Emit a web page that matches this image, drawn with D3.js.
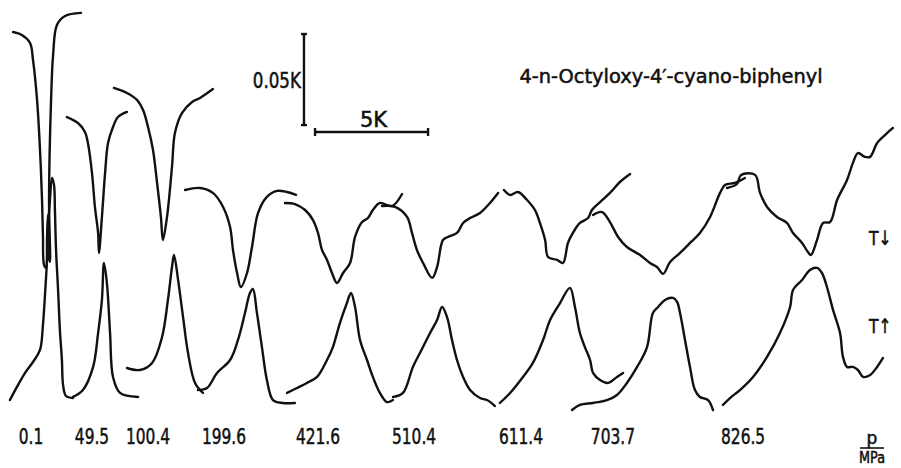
<!DOCTYPE html>
<html>
<head>
<meta charset="utf-8">
<script src="https://cdn.jsdelivr.net/npm/d3@7"></script>
<style>
  body { margin: 0; background: #fff; }
  svg text { font-family: "DejaVu Sans", sans-serif; fill: #111; stroke: #111; stroke-width: 0.55px; }
</style>
</head>
<body>
<div id="chart"></div>
<script>
// temperature offset in K, signal in mK
const pressures = ["0.1", "49.5", "100.4", "199.6", "421.6", "510.4", "611.4", "703.7", "826.5"];
const labelT = [1.37, 4.07, 6.55, 9.91, 14.07, 18.32, 23.05, 27.12, 32.88];

// cooling runs (upper row, T decreasing)
const cool01 = [[0.58,232.4],[0.97,230.8],[1.33,226.4],[1.46,217.1],[1.64,195.1],[1.77,167.6],[1.86,140.1],[1.90,120.9],[1.95,104.4],[2.04,102.8],[2.08,118.1],[2.12,131.9],[2.17,108.3],[2.21,106.1],[2.17,140.1],[2.26,195.1],[2.35,219.8],[2.52,236.3],[2.88,241.2],[3.58,242.9]];
const cool495 = [[2.96,185.7],[3.45,182.4],[3.76,177.5],[3.89,171.4],[4.07,155.0],[4.20,136.3],[4.34,122.0],[4.38,111.0],[4.51,130.8],[4.65,155.0],[4.78,171.4],[5.00,180.2],[5.22,185.7],[5.62,188.5]];
const cool1004 = [[5.04,201.7],[5.62,198.9],[6.06,195.1],[6.33,189.6],[6.55,180.2],[6.77,167.6],[6.95,149.5],[7.12,130.8],[7.21,118.1],[7.39,130.8],[7.61,158.3],[7.74,176.9],[8.05,187.9],[8.50,194.0],[8.85,196.2],[9.42,201.1]];
const cool1996 = [[8.19,145.6],[8.85,146.7],[9.42,144.0],[9.87,136.3],[10.18,125.3],[10.31,112.6],[10.49,100.0],[10.66,92.3],[10.93,100.0],[11.15,114.3],[11.42,133.0],[11.81,141.8],[12.26,145.1],[12.70,144.5],[13.10,142.9]];
const cool4216 = [[12.61,138.5],[13.05,137.9],[13.50,134.6],[13.85,129.1],[14.07,122.0],[14.25,112.6],[14.47,107.2],[14.69,100.0],[14.91,94.5],[15.18,100.0],[15.49,105.5],[15.71,119.8],[16.02,128.0],[16.28,130.2],[16.50,134.6],[16.81,138.5],[17.35,136.8],[17.79,143.4]];
const cool5104 = [[16.90,136.8],[17.48,136.3],[18.01,130.8],[18.23,122.0],[18.45,112.6],[18.72,105.5],[19.12,97.3],[19.34,103.3],[19.60,118.1],[19.82,119.8],[20.22,122.0],[20.49,127.5],[20.80,130.2],[21.24,133.0],[21.68,138.5],[22.04,144.0]];
const cool6114 = [[22.30,145.6],[22.57,142.9],[22.92,144.5],[23.32,140.1],[23.67,134.6],[23.89,127.5],[24.12,118.1],[24.25,108.8],[24.65,107.2],[24.91,105.5],[25.13,116.5],[25.35,122.0],[25.66,127.5],[26.02,130.2],[26.19,134.6],[26.55,139.0],[26.99,144.0],[27.43,150.0],[27.88,154.4]];
const cool7037 = [[26.24,131.9],[26.64,133.5],[26.99,128.0],[27.35,119.8],[27.74,114.3],[28.32,109.9],[28.76,105.5],[29.07,103.3],[29.34,99.5],[29.65,106.1],[30.09,111.0],[30.53,116.5],[30.97,122.0],[31.42,130.8],[31.86,144.0],[32.08,148.4],[32.52,149.5],[32.96,152.2]];
const cool8265 = [[32.17,146.7],[32.61,148.9],[32.79,153.9],[33.41,153.9],[33.63,144.0],[33.94,136.3],[34.38,130.8],[34.82,127.5],[35.09,122.0],[35.49,116.5],[35.75,111.5],[35.88,109.9],[36.15,118.1],[36.42,127.5],[36.73,128.0],[37.04,140.1],[37.48,151.1],[37.74,160.5],[37.96,165.9],[38.27,163.8],[38.50,163.8],[38.81,171.4],[39.16,175.8],[39.51,179.7]];

// heating runs (lower row, T increasing)
const heat01 = [[0.44,30.2],[0.75,37.4],[1.11,45.1],[1.46,51.1],[1.77,57.7],[1.90,71.4],[1.99,87.9],[2.08,107.2],[2.12,123.6],[2.21,140.1],[2.30,152.2],[2.39,148.4],[2.43,134.6],[2.48,112.6],[2.57,90.7],[2.65,68.7],[2.74,52.2],[2.79,38.5],[2.92,32.4],[3.23,31.3]];
const heat495 = [[3.23,31.9],[3.67,35.7],[4.12,48.4],[4.34,67.0],[4.51,85.2],[4.60,105.5],[4.73,94.5],[4.87,67.0],[5.00,42.9],[5.31,34.1],[6.11,31.9]];
const heat1004 = [[5.62,47.8],[6.19,46.7],[6.73,50.6],[7.17,64.8],[7.43,85.2],[7.61,103.3],[7.70,109.9],[7.88,96.2],[8.10,75.8],[8.32,56.0],[8.63,39.6],[8.98,34.1]];
const heat1996 = [[8.76,35.7],[9.16,36.8],[9.60,45.1],[10.18,52.2],[10.53,63.2],[10.84,78.0],[11.06,89.0],[11.19,91.2],[11.37,78.0],[11.59,59.3],[11.81,41.2],[12.08,30.2],[12.52,28.6],[13.05,28.6]];
const heat4216 = [[12.70,34.1],[13.14,36.8],[13.58,39.6],[14.03,42.9],[14.47,52.2],[14.73,59.3],[15.04,72.5],[15.35,83.5],[15.53,89.0],[15.71,81.3],[15.93,63.2],[16.24,52.2],[16.50,42.9],[16.81,34.1],[17.12,29.1],[17.39,30.2]];
const heat5104 = [[17.39,31.9],[17.83,34.1],[18.27,48.4],[18.58,56.0],[19.03,67.0],[19.34,74.2],[19.56,81.3],[19.78,75.8],[20.00,63.2],[20.22,52.2],[20.49,42.9],[20.80,35.7],[21.24,31.3],[21.55,30.2],[21.90,26.9]];
const heat6114 = [[22.12,28.6],[22.57,34.1],[23.14,42.9],[23.58,50.6],[24.03,63.2],[24.34,74.2],[24.78,83.5],[25.22,91.8],[25.44,81.3],[25.66,67.0],[25.88,59.3],[26.11,52.2],[26.24,45.1],[26.55,41.2],[26.90,39.6],[27.30,42.9],[27.57,45.1]];
const heat7037 = [[25.31,24.7],[25.66,27.5],[26.24,28.6],[26.86,30.2],[27.30,33.0],[27.74,39.6],[28.19,48.4],[28.63,59.3],[28.89,78.0],[29.12,81.3],[29.42,85.2],[29.78,86.3],[29.96,84.1],[30.09,78.0],[30.31,63.2],[30.53,48.4],[30.75,35.7],[30.97,31.9],[31.33,30.2],[31.55,24.7]];
const heat8265 = [[31.99,27.5],[32.30,31.3],[32.74,35.7],[33.32,42.9],[33.94,53.9],[34.51,67.0],[34.96,81.3],[35.09,90.7],[35.49,96.2],[35.84,101.7],[36.15,102.8],[36.37,100.0],[36.59,92.3],[36.86,79.7],[37.17,67.0],[37.30,53.9],[37.48,48.4],[37.74,48.4],[37.96,46.7],[38.19,42.9],[38.50,44.0],[38.81,48.4],[39.07,53.3]];

const coolRuns = [cool01, cool495, cool1004, cool1996, cool4216, cool5104, cool6114, cool7037, cool8265];
const heatRuns = [heat01, heat495, heat1004, heat1996, heat4216, heat5104, heat6114, heat7037, heat8265];

// scale bars: 0.05 K = 50 mK vertical, 5 K horizontal
const barV = { t: 13.45, from: 181.3, to: 231.3 };
const barH = { from: 13.94, to: 18.94, s: 177.5 };

const width = 901, height = 468;

const svg = d3.select("#chart")
  .append("svg")
  .attr("width", width)
  .attr("height", height);

svg.append("rect").attr("width", width).attr("height", height).attr("fill", "#fff");

const x = d3.scaleLinear().domain([0, 40]).range([0, 904]);
const y = d3.scaleLinear().domain([0, 250]).range([455, 0]);

const line = d3.line()
  .x(d => x(d[0]))
  .y(d => y(d[1]))
  .curve(d3.curveCatmullRom.alpha(0.5));

// squeeze/stretch text to mimic the narrow lettering of the original
function fit(sel, k) {
  sel.each(function () {
    const w = this.getComputedTextLength();
    d3.select(this).attr("textLength", w * k).attr("lengthAdjust", "spacingAndGlyphs");
  });
}

const curves = svg.append("g")
  .attr("fill", "none")
  .attr("stroke", "#111")
  .attr("stroke-width", 2.4)
  .attr("stroke-linejoin", "round")
  .attr("stroke-linecap", "round");

curves.selectAll("path.cool")
  .data(coolRuns)
  .enter()
  .append("path")
  .attr("class", "cool")
  .attr("d", line);

curves.selectAll("path.heat")
  .data(heatRuns)
  .enter()
  .append("path")
  .attr("class", "heat")
  .attr("d", line);

// scale bars
const bars = svg.append("g").attr("stroke", "#111").attr("stroke-width", 2.4);
bars.append("line")
  .attr("x1", x(barV.t)).attr("x2", x(barV.t))
  .attr("y1", y(barV.from)).attr("y2", y(barV.to));
[barV.from, barV.to].forEach(v => {
  bars.append("line")
    .attr("x1", x(barV.t) - 3).attr("x2", x(barV.t) + 3)
    .attr("y1", y(v)).attr("y2", y(v));
});
bars.append("line")
  .attr("x1", x(barH.from)).attr("x2", x(barH.to))
  .attr("y1", y(barH.s)).attr("y2", y(barH.s));
[barH.from, barH.to].forEach(t => {
  bars.append("line")
    .attr("x1", x(t)).attr("x2", x(t))
    .attr("y1", y(barH.s) - 4).attr("y2", y(barH.s) + 4);
});

svg.append("text")
  .attr("x", x(barV.t) - 3)
  .attr("y", 88)
  .attr("text-anchor", "end")
  .style("font-size", "22px")
  .text("0.05K")
  .call(fit, 0.76);

svg.append("text")
  .attr("x", x((barH.from + barH.to) / 2) + 2)
  .attr("y", y(barH.s) - 5)
  .attr("text-anchor", "middle")
  .style("font-size", "21px")
  .text("5K")
  .call(fit, 1.0);

svg.append("text")
  .attr("x", 671)
  .attr("y", 83)
  .attr("text-anchor", "middle")
  .style("font-size", "20px")
  .text("4-n-Octyloxy-4\u2032-cyano-biphenyl")
  .call(fit, 0.97);

// run direction markers
svg.append("text").attr("x", 869).attr("y", 245).style("font-size", "20px").text("T\u2193").call(fit, 0.78);
svg.append("text").attr("x", 869).attr("y", 333).style("font-size", "20px").text("T\u2191").call(fit, 0.78);

// pressure labels
svg.append("g")
  .selectAll("text")
  .data(pressures)
  .enter()
  .append("text")
  .attr("x", (d, i) => x(labelT[i]))
  .attr("y", 444)
  .attr("text-anchor", "middle")
  .style("font-size", "22px")
  .text(d => d)
  .call(fit, 0.7);

const unit = svg.append("g").attr("text-anchor", "middle");
unit.append("text").attr("x", 872).attr("y", 444).style("font-size", "17px").text("p");
unit.append("line")
  .attr("x1", 860).attr("x2", 884).attr("y1", 448).attr("y2", 448)
  .attr("stroke", "#111").attr("stroke-width", 1.6);
unit.append("text").attr("x", 872).attr("y", 463).style("font-size", "16px").text("MPa").call(fit, 0.8);
</script>
</body>
</html>
